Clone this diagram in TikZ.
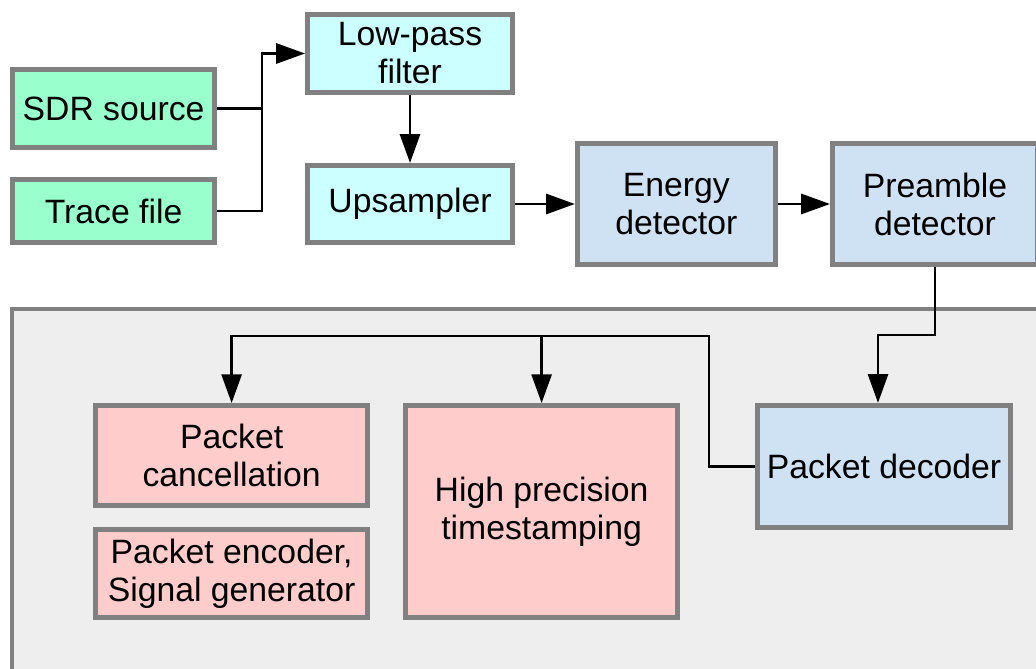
\documentclass[tikz,border=0pt]{standalone}
\usepackage{fontspec}
\setmainfont{Liberation Sans}
\usepackage{tikz}
\usetikzlibrary{arrows.meta}

\definecolor{srcgreen}{HTML}{99FFCC}
\definecolor{filtcyan}{HTML}{CCFFFF}
\definecolor{detblue}{HTML}{CFE2F3}
\definecolor{txpink}{HTML}{FFCCCC}
\definecolor{boxgray}{HTML}{808080}
\definecolor{panelgray}{HTML}{EEEEEE}

\begin{document}
\begin{tikzpicture}[
  block/.style={rectangle,draw=boxgray,line width=0.12cm,inner sep=0pt,align=center,
    font=\fontsize{24}{27}\selectfont},
  arr/.style={line width=2pt,-{Triangle[length=0.72cm,width=0.5cm]}},
  wire/.style={line width=2pt}]

\useasboundingbox (0,0) rectangle (25.9,-16.725);
\clip (0,0) rectangle (25.9,-16.725);

% receive panel
\draw[draw=boxgray,fill=panelgray,line width=0.12cm] (0.3,-7.725) rectangle (27,-18);

\node (SDR) at (2.84,-2.71) [block,fill=srcgreen,minimum width=5.05cm,minimum height=1.955cm] {SDR source};

\node (Trace) at (2.84,-5.275) [block,fill=srcgreen,minimum width=5.05cm,minimum height=1.58cm] {Trace file};

\node (LPF) at (10.25,-1.3375) [block,fill=filtcyan,minimum width=5.13cm,minimum height=1.955cm] {Low-pass\\filter};

\node (Upsampler) at (10.25,-5.1) [block,fill=filtcyan,minimum width=5.13cm,minimum height=1.93cm] {Upsampler};

\node (Energy) at (16.91,-5.1) [block,fill=detblue,minimum width=4.955cm,minimum height=3.03cm] {Energy\\detector};

\node (Preamble) at (23.375,-5.1) [block,fill=detblue,minimum width=5.13cm,minimum height=3.03cm] {Preamble\\detector};

\node (Cancel) at (5.79,-11.39) [block,fill=txpink,minimum width=6.805cm,minimum height=2.505cm] {Packet\\cancellation};

\node (Encoder) at (5.79,-14.34) [block,fill=txpink,minimum width=6.805cm,minimum height=2.205cm] {Packet encoder,\\Signal generator};

\node (Timestamp) at (13.54,-12.79) [block,fill=txpink,minimum width=6.805cm,minimum height=5.305cm] {High precision\\timestamping};

\node (Decoder) at (22.1,-11.66) [block,fill=detblue,minimum width=6.33cm,minimum height=3.055cm] {Packet decoder};

% front end
\coordinate (merge) at (6.55,-2.71);
\draw[wire] (Trace.east) -| (merge);
\draw[arr] (SDR.east) -- (merge) |- (LPF.west);
\draw[arr] (LPF) -- (Upsampler);
\draw[arr] (Upsampler) -- (Energy);
\draw[arr] (Energy) -- (Preamble);
\draw[arr] (Preamble.south) -- ++(0,-1.7) -| ([xshift=-0.15cm]Decoder.north);

% decoder output
\coordinate (bus) at (17.725,-8.4);
\draw[arr] (Decoder.west) -| (bus) -| (Cancel.north);
\draw[arr] (Timestamp.north |- bus) -- (Timestamp.north);

\end{tikzpicture}
\end{document}
